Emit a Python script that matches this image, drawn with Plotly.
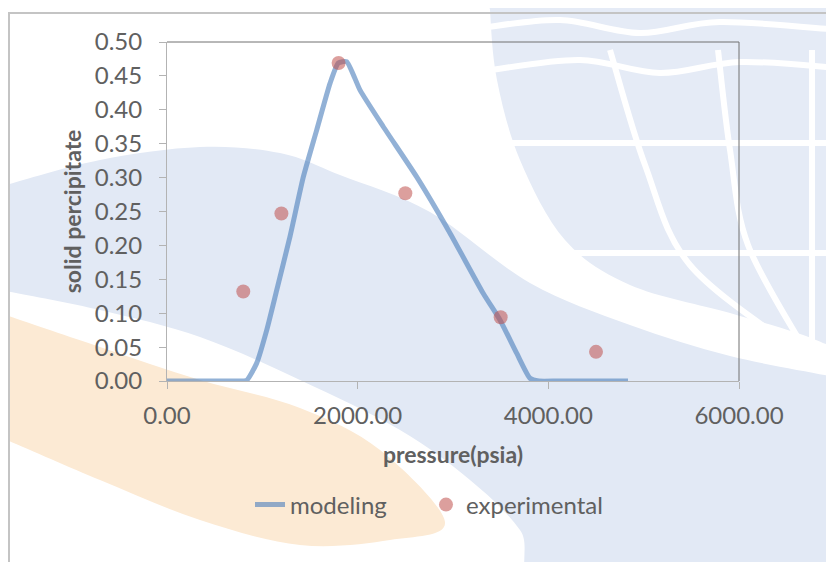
import plotly.graph_objects as go

# ---- data ----
model_x = [0, 300, 600, 750, 835, 940, 1046, 1151, 1290, 1430, 1570, 1710, 1797, 1885,
           2025, 2269, 2619, 2969, 3318, 3493, 3668, 3808, 3900, 4100, 4500, 4836]
model_y = [0, 0, 0, 0, 0.001, 0.026, 0.075, 0.134, 0.213, 0.301, 0.370, 0.439, 0.469, 0.471,
           0.429, 0.375, 0.301, 0.218, 0.129, 0.090, 0.041, 0.004, 0, 0, 0, 0]
exp_x = [800, 1200, 1800, 2500, 3500, 4500]
exp_y = [0.132, 0.247, 0.469, 0.277, 0.094, 0.043]
x_ticks = [0, 2000, 4000, 6000]
x_tick_labels = ["0.00", "2000.00", "4000.00", "6000.00"]
y_ticks = [0, 0.05, 0.10, 0.15, 0.20, 0.25, 0.30, 0.35, 0.40, 0.45, 0.50]

# page body has an 8px default margin -> figure occupies 8..834 x 8..562
OFF = 8
W, H = 834 - OFF, 562 - OFF
L, R, T, B = 167, 739, 42, 381   # plot area in window pixels


def px(x):
    return (x - L) / (R - L)


def py(y):
    return (B - y) / (B - T)


def fmt(p):
    return f"{px(p[0]):.4f},{py(p[1]):.4f}"


def smooth_path(pts, close=True):
    n = len(pts)
    s = "M " + fmt(pts[0])
    segs = n if close else n - 1
    for i in range(segs):
        p0 = pts[(i - 1) % n] if (close or i > 0) else pts[i]
        p1 = pts[i]
        p2 = pts[(i + 1) % n]
        p3 = pts[(i + 2) % n] if (close or i + 2 < n) else p2
        c1 = (p1[0] + (p2[0] - p0[0]) / 6, p1[1] + (p2[1] - p0[1]) / 6)
        c2 = (p2[0] - (p3[0] - p1[0]) / 6, p2[1] - (p3[1] - p1[1]) / 6)
        s += f" C {fmt(c1)} {fmt(c2)} {fmt(p2)}"
    return s + (" Z" if close else "")


BLUE = "#E2E9F5"
GLOBE = "#E5EBF6"
ORANGE = "#FCEAD4"

shapes = []
# background watermark (decorative)
shapes.append(dict(type="path", xref="paper", yref="paper", layer="below", line=dict(width=0),
                   fillcolor=BLUE,
                   path=smooth_path([(-20, 195), (0, 187), (100, 160), (200, 147), (280, 153), (340, 175),
                                     (430, 212), (530, 283), (630, 325), (730, 356), (834, 377),
                                     (860, 385), (860, 600), (560, 600), (520, 530), (470, 480),
                                     (400, 430), (300, 380), (200, 337), (100, 310), (0, 290), (-20, 287)])))
shapes.append(dict(type="path", xref="paper", yref="paper", layer="below", line=dict(width=0),
                   fillcolor=ORANGE,
                   path=smooth_path([(-20, 305), (0, 313), (100, 347), (200, 380), (300, 408), (380, 450),
                                     (445, 522), (390, 540), (300, 545), (200, 520), (100, 480),
                                     (0, 437), (-20, 430)])))
shapes.append(dict(type="path", xref="paper", yref="paper", layer="below", line=dict(width=0),
                   fillcolor=GLOBE,
                   path=smooth_path([(490, -20), (870, -20), (870, 357), (834, 347), (797, 333),
                                     (730, 313), (630, 285), (565, 240), (520, 160), (497, 80), (490, 10)])))
# globe grid lines
for pts in [
    [(480, 28), (560, 20), (640, 33), (720, 22), (840, 30)],
    [(490, 70), (580, 60), (660, 73), (740, 62), (840, 68)],
    [(505, 143), (840, 143)],
    [(560, 253), (840, 253)],
    [(610, 50), (645, 165), (690, 265), (800, 352)],
    [(718, 50), (730, 150), (748, 245), (805, 350)],
    [(812, 50), (812, 350)],
]:
    shapes.append(dict(type="path", xref="paper", yref="paper", layer="below",
                       line=dict(color="white", width=6), path=smooth_path(pts, close=False)))

# outer frame
shapes.append(dict(type="rect", xref="paper", yref="paper", layer="below",
                   x0=px(9), x1=px(845), y0=py(13), y1=py(575),
                   line=dict(color="#C4C4C4", width=2), fillcolor="rgba(0,0,0,0)"))
# plot area top & right border
shapes.append(dict(type="line", xref="paper", yref="paper", x0=0, x1=1, y0=1, y1=1,
                   line=dict(color="#707070", width=1)))
shapes.append(dict(type="line", xref="paper", yref="paper", x0=1, x1=1, y0=0, y1=1,
                   line=dict(color="#707070", width=1)))

FONT = "Lato, 'Open Sans', sans-serif"
TXT = "#606060"

fig = go.Figure()
fig.add_trace(go.Scatter(
    x=model_x, y=model_y, mode="lines", name="modeling",
    line=dict(color="rgba(79,129,189,0.62)", width=5, shape="spline", smoothing=0.5),
))
fig.add_trace(go.Scatter(
    x=exp_x, y=exp_y, mode="markers", name="experimental",
    marker=dict(color="rgba(192,80,77,0.55)", size=14, line=dict(width=0)),
))

fig.update_layout(
    width=W, height=H,
    margin=dict(l=L - OFF, r=834 - R, t=T - OFF, b=562 - B, autoexpand=False),
    paper_bgcolor="white", plot_bgcolor="rgba(0,0,0,0)",
    font=dict(family=FONT, color=TXT, size=24),
    shapes=shapes,
    showlegend=True,
    legend=dict(orientation="h", x=px(250), xanchor="left", y=py(505), yanchor="middle",
                font=dict(size=24, color=TXT), bgcolor="rgba(0,0,0,0)",
                entrywidth=131, entrywidthmode="pixels"),
    xaxis=dict(range=[0, 6000], tickvals=x_ticks, ticktext=x_tick_labels, automargin=False,
               showgrid=False, zeroline=False, showline=True, linecolor="#B3B3B3", linewidth=1,
               ticks="outside", ticklen=7, tickcolor="#B3B3B3",
               tickfont=dict(size=24, color=TXT), ticklabelstandoff=6,
               title=dict(text="<b>pressure(psia)</b>", font=dict(size=23, color=TXT), standoff=19)),
    yaxis=dict(range=[0, 0.5], tickvals=y_ticks, tickformat=".2f", automargin=False,
               showgrid=False, zeroline=False, showline=True, linecolor="#B3B3B3", linewidth=1,
               ticks="outside", ticklen=7, tickcolor="#B3B3B3",
               tickfont=dict(size=24, color=TXT), ticklabelstandoff=12,
               title=dict(text="<b>solid percipitate</b>", font=dict(size=23, color=TXT), standoff=6)),
)

fig.write_html("out.html")
